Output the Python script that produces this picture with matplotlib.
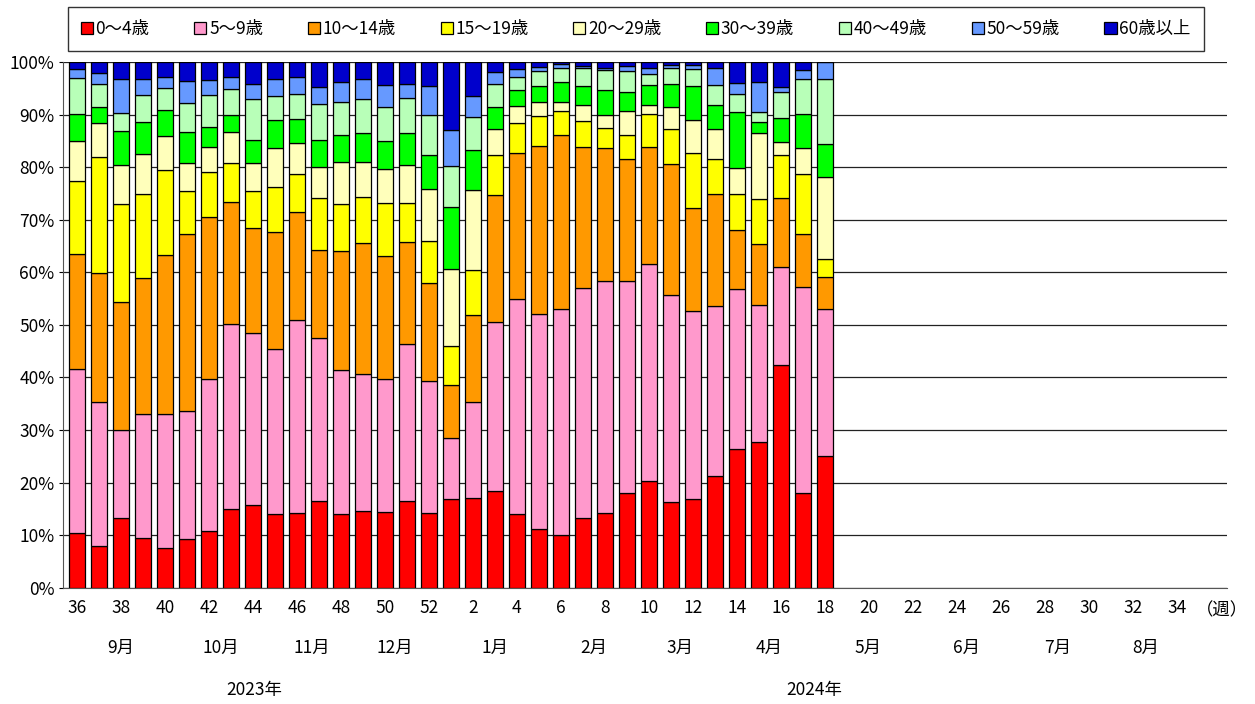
import numpy as np
import matplotlib.pyplot as plt

plt.rcParams['font.family'] = ['Noto Sans CJK JP', 'DejaVu Sans']

# week labels along the x axis (36..52 of 2023, then 1..35 of 2024)
weeks = list(range(36, 53)) + list(range(1, 36))
n_data = 35  # weeks 36 (2023) .. 18 (2024) have data

age_groups = ['0〜4歳', '5〜9歳', '10〜14歳', '15〜19歳', '20〜29歳',
              '30〜39歳', '40〜49歳', '50〜59歳', '60歳以上']
colors = ['#FF0000', '#FF99CC', '#FF9900', '#FFFF00', '#FFFFBB',
          '#00FF00', '#B8FFB8', '#6699FF', '#0000CC']

# percentages per week (weeks 36..52, 1..18)
age_0_4 = [10.5, 8.0, 13.3, 9.5, 7.6, 9.3, 10.9, 14.9, 15.8, 14.1, 14.2, 16.6,
           14.1, 14.6, 14.4, 16.6, 14.3, 16.8, 17.0, 18.5, 14.1, 11.2, 10.1, 13.3,
           14.3, 18.1, 20.4, 16.3, 16.8, 21.2, 26.4, 27.8, 42.4, 18.0, 25.0]
age_5_9 = [31.1, 27.4, 16.8, 23.5, 25.5, 24.4, 28.9, 35.3, 32.7, 31.3, 36.8, 30.9,
           27.3, 26.1, 25.4, 29.8, 25.1, 11.7, 18.4, 32.1, 40.9, 40.9, 43.0, 43.8,
           44.0, 40.2, 41.2, 39.3, 35.9, 32.3, 30.5, 25.9, 18.7, 39.3, 28.1]
age_10_14 = [21.8, 24.5, 24.3, 26.0, 30.2, 33.6, 30.7, 23.2, 19.9, 22.2, 20.4, 16.8,
             22.6, 24.9, 23.3, 19.3, 18.5, 10.1, 16.4, 24.1, 27.7, 32.0, 33.1, 26.7,
             25.3, 23.3, 22.3, 25.0, 19.6, 21.3, 11.1, 11.7, 13.0, 9.9, 6.1]
age_15_19 = [14.0, 22.1, 18.5, 15.8, 16.2, 8.2, 8.5, 7.3, 7.1, 8.7, 7.2, 9.9,
             8.9, 8.8, 10.0, 7.5, 8.1, 7.3, 8.6, 7.7, 5.7, 5.7, 4.5, 4.9,
             3.8, 4.6, 6.2, 6.7, 10.4, 6.8, 6.9, 8.6, 8.3, 11.5, 3.3]
age_20_29 = [7.6, 6.4, 7.5, 7.7, 6.5, 5.2, 4.8, 5.9, 5.3, 7.4, 5.9, 5.9,
             8.0, 6.6, 6.6, 7.2, 9.9, 14.7, 15.3, 4.9, 3.3, 2.5, 1.7, 3.2,
             2.5, 4.4, 1.8, 4.1, 6.3, 5.6, 5.0, 12.5, 2.3, 4.9, 15.7]
age_30_39 = [5.1, 3.1, 6.5, 6.0, 4.8, 5.9, 3.8, 3.4, 4.4, 5.3, 4.7, 5.1,
             5.3, 5.5, 5.3, 6.1, 6.5, 11.9, 7.6, 4.2, 3.0, 3.2, 3.8, 3.6,
             4.7, 3.6, 3.8, 4.5, 6.5, 4.6, 10.6, 2.0, 4.7, 6.5, 6.2]
age_40_49 = [6.9, 4.4, 3.3, 5.3, 4.3, 5.6, 6.2, 4.9, 7.7, 4.6, 4.7, 6.8,
             6.2, 6.4, 6.5, 6.6, 7.5, 7.8, 6.3, 4.4, 2.4, 2.7, 2.6, 3.3,
             3.9, 4.0, 2.1, 2.9, 3.2, 3.9, 3.5, 1.9, 4.8, 6.7, 12.4]
age_50_59 = [1.7, 2.0, 6.5, 2.9, 2.0, 4.1, 2.8, 2.2, 3.0, 3.1, 3.2, 3.3,
             3.7, 3.9, 4.2, 2.8, 5.6, 6.8, 4.0, 2.1, 1.6, 0.9, 0.8, 0.5,
             0.4, 1.1, 1.1, 0.7, 0.8, 3.1, 2.0, 5.7, 1.0, 1.6, 3.2]
age_60_up = [1.3, 2.1, 3.3, 3.3, 2.9, 3.7, 3.4, 2.9, 4.1, 3.3, 2.9, 4.7,
             3.9, 3.2, 4.3, 4.1, 4.5, 12.9, 6.4, 2.0, 1.3, 0.9, 0.4, 0.7,
             1.1, 0.7, 1.1, 0.5, 0.5, 1.2, 4.0, 3.9, 4.8, 1.6, 0.0]

series = [age_0_4, age_5_9, age_10_14, age_15_19, age_20_29,
          age_30_39, age_40_49, age_50_59, age_60_up]

months = ['9月', '10月', '11月', '12月', '1月', '2月', '3月', '4月',
          '5月', '6月', '7月', '8月']
month_pos = [2.0, 6.55, 10.7, 14.45, 19.0, 23.5, 27.4, 31.45,
             35.95, 40.45, 44.6, 48.6]
years = ['2023年', '2024年']
year_pos = [8.05, 33.5]

fig = plt.figure(figsize=(12.55, 7.04), dpi=100)
ax = fig.add_axes([0.050, 0.165, 0.928, 0.747])

x = np.arange(n_data)
data = np.array(series)
totals = data.sum(axis=0)
data = data / totals * 100
bottom = np.zeros(n_data)
handles = []
for vals, col, lab in zip(data, colors, age_groups):
    b = ax.bar(x, vals, bottom=bottom, width=0.72, color=col,
               edgecolor='black', linewidth=0.9, label=lab, zorder=3)
    handles.append(b)
    bottom += vals

ax.set_xlim(-0.64, 52.3)
ax.set_ylim(0, 100)
ax.set_yticks(np.arange(0, 101, 10))
ax.set_yticklabels([f'{v}%' for v in range(0, 101, 10)], fontsize=12.5)
ax.yaxis.grid(True, color='#222222', linewidth=0.9, zorder=0)
ax.tick_params(axis='y', length=3, pad=3)

ax.set_xticks(np.arange(0, len(weeks), 2))
ax.set_xticklabels([str(w) for w in weeks[::2]], fontsize=12.5)
ax.tick_params(axis='x', length=0, pad=8)

for s in ['top', 'right']:
    ax.spines[s].set_visible(False)
ax.spines['left'].set_color('#555555')
ax.spines['bottom'].set_color('#555555')

ax.text(52.05, -0.042, '（週）', transform=ax.get_xaxis_transform(),
        ha='center', va='center', fontsize=12.5)
for m, p in zip(months, month_pos):
    ax.text(p, -0.114, m, transform=ax.get_xaxis_transform(),
            ha='center', va='center', fontsize=12.5)
for yl, p in zip(years, year_pos):
    ax.text(p, -0.194, yl, transform=ax.get_xaxis_transform(),
            ha='center', va='center', fontsize=12.5)

leg = fig.legend(handles=handles, labels=age_groups, loc='center',
                 bbox_to_anchor=(0.054, 0.928, 0.905, 0.061), mode='expand',
                 ncol=9, fontsize=12.5, frameon=True, fancybox=False,
                 handlelength=0.7, handleheight=0.7, handletextpad=0.15,
                 borderpad=0.75, borderaxespad=0)
leg.get_frame().set_edgecolor('black')
leg.get_frame().set_linewidth(1.0)

fig.savefig('out.png', dpi=100)
